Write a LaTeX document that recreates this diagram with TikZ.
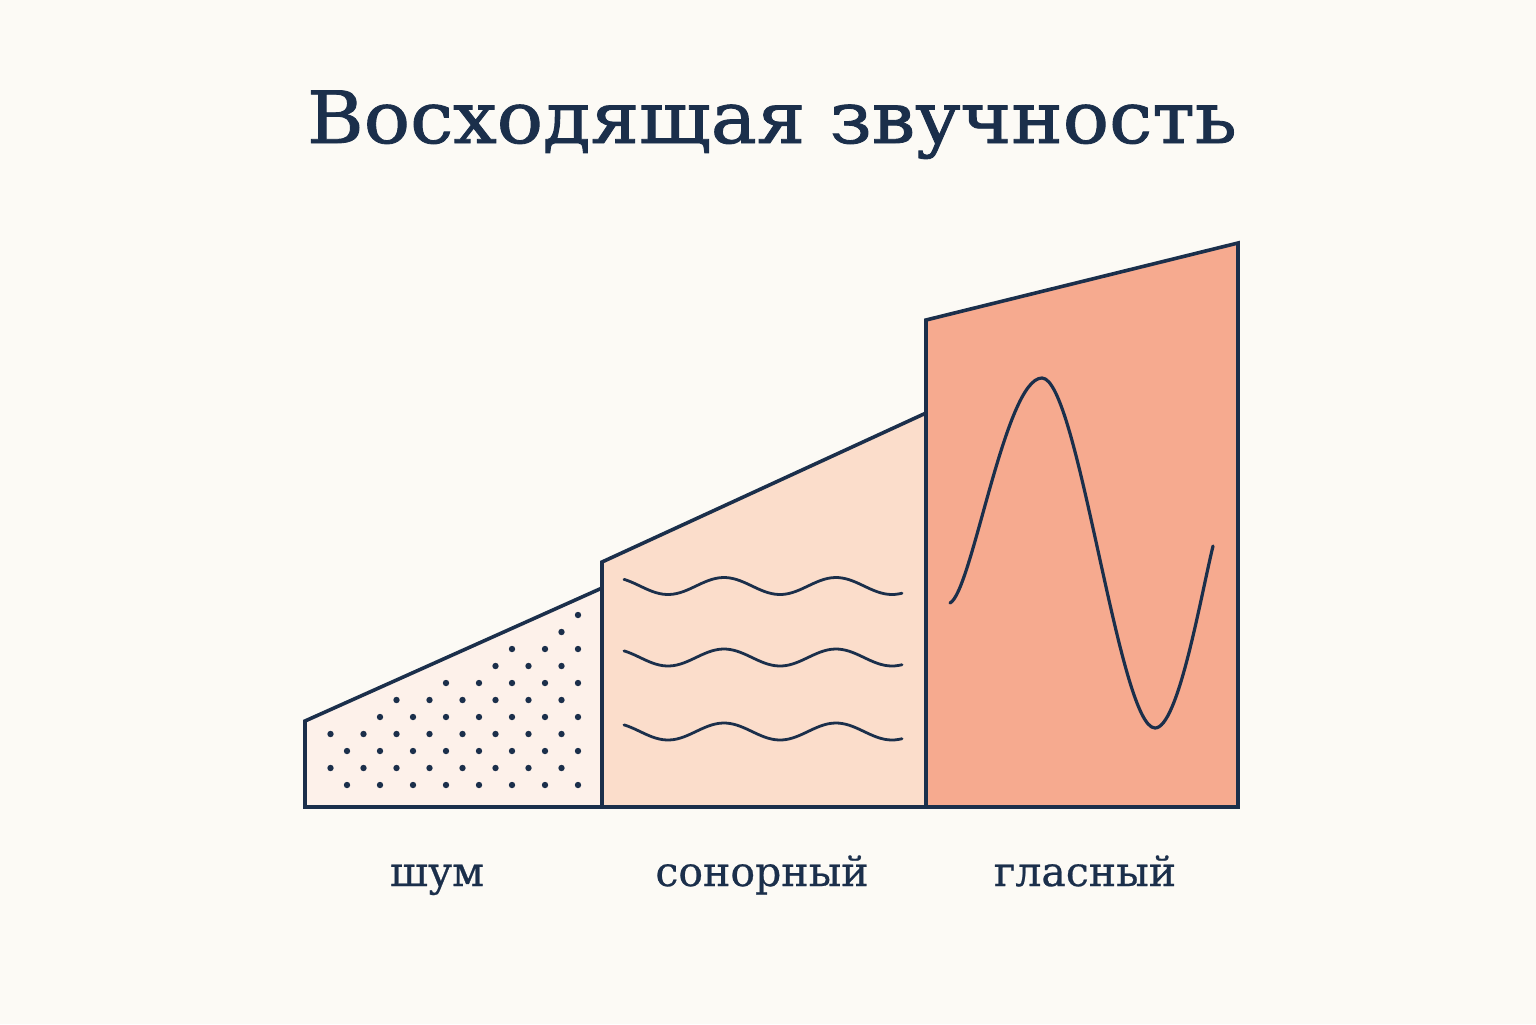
\documentclass[tikz,border=0pt]{standalone}
\usepackage{fontspec}
\setmainfont{DejaVu Serif}
\usetikzlibrary{calc}
\definecolor{navy}{HTML}{1B2F4B}
\definecolor{paper}{HTML}{FCFAF5}
\definecolor{noisefill}{HTML}{FDF1EA}
\definecolor{sonfill}{HTML}{FBDDCB}
\definecolor{vowfill}{HTML}{F6AA8F}
\tikzset{
  outline/.style={navy, line width=1.8pt, line join=miter},
  wavy/.style={navy, line width=1.4pt, line cap=round},
  lbl/.style={text=navy, font=\fontsize{20.5}{24}\selectfont\addfontfeatures{FakeBold=0.6}, anchor=base},
}

\begin{document}
\begin{tikzpicture}[x=0.5pt, y=-0.5pt]
\coordinate (O) at (0,0);
\fill[paper] (O) rectangle (1536,1024);
\useasboundingbox (O) rectangle (1536,1024);

\node[text=navy, font=\fontsize{36}{42}\selectfont\addfontfeatures{FakeBold=1.2}, anchor=base] (title) at (772,143) {\scalebox{1.07}[1]{Восходящая звучность}};

\coordinate (n1) at (305,807);
\coordinate (n2) at (305,721);
\coordinate (n3) at (602,588);
\coordinate (n4) at (602,807);
\coordinate (s2) at (602,562);
\coordinate (s3) at (926,413);
\coordinate (s4) at (926,807);
\coordinate (v2) at (926,320);
\coordinate (v3) at (1238,243);
\coordinate (v4) at (1238,807);

\filldraw[outline, fill=noisefill] (n1) -- (n2) -- (n3) -- (n4) -- cycle;
\filldraw[outline, fill=sonfill] (n4) -- (s2) -- (s3) -- (s4) -- cycle;
\filldraw[outline, fill=vowfill] (s4) -- (v2) -- (v3) -- (v4) -- cycle;

\foreach \j in {0,...,10} {
 \foreach \i in {0,...,7} {
  \pgfmathsetmacro{\dx}{347+33*\i-16.5*mod(\j,2)}
  \pgfmathsetmacro{\dy}{785-17*\j}
  \pgfmathtruncatemacro{\ok}{\dy > 737-0.4478*(\dx-305) ? 1 : 0}
  \ifnum\ok=1 \fill[navy] (\dx,\dy) circle[radius=1.6pt]; \fi
 }
}

\foreach \c in {586,657.5,731.5} {
 \draw[wavy] plot[domain=624:902, samples=80, smooth] (\x, {\c+8.5*cos(3.2143*(\x-668))});
}

\draw[navy, line width=1.6pt, line cap=round] (950,603)
 .. controls (972,592) and (1005,378) .. (1042,378)
 .. controls (1078,378) and (1119,728) .. (1155,728)
 .. controls (1178,728) and (1200,600) .. (1213,546);

\node[lbl] (noise) at (437,886) {шум};
\node[lbl] (sonorant) at (762,886) {сонорный};
\node[lbl] (vowel) at (1085,886) {гласный};
\end{tikzpicture}
\end{document}
